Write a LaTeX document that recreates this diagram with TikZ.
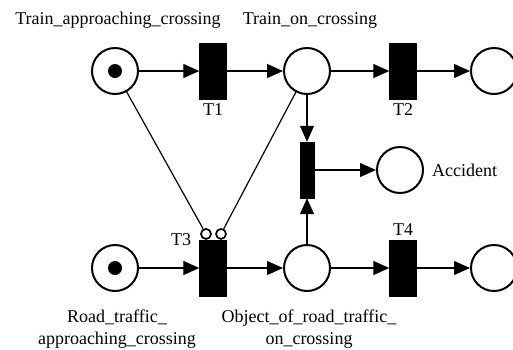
\documentclass[tikz,border=0pt]{standalone}
\usepackage{fontspec}
\setmainfont{Liberation Serif}
\usetikzlibrary{arrows.meta, positioning}

\begin{document}
\begin{tikzpicture}[
        x=1pt, y=-1pt,
        >={Triangle[length=16pt, width=14pt]},
        place/.style={circle, draw=black, line width=2pt, minimum size=46pt, inner sep=0pt},
        token/.style={circle, fill=black, minimum size=14pt, inner sep=0pt},
        transition/.style={rectangle, fill=black, draw=black, minimum width=27pt, minimum height=56pt, inner sep=0pt},
        inhibitor/.style={circle, draw=black, line width=1.7pt, minimum size=10pt, inner sep=0pt},
        arc/.style={->, line width=1.2pt},
        lbl/.style={font=\fontsize{18}{22}\selectfont, inner sep=2pt, align=center}
    ]

        \useasboundingbox (0,0) rectangle (513,349);

        % train line
        \node[place] (p_train_app) at (115,71) {};
        \node[token] (tok_train) at (p_train_app) {};
        \node[transition] (t1) at (213,71) {};
        \node[place] (p_train_on) at (307,71) {};
        \node[transition] (t2) at (403,71) {};
        \node[place] (p_train_gone) at (494,71) {};

        % accident
        \node[transition, minimum width=14pt] (t5) at (307,170) {};
        \node[place] (p_accident) at (400,170) {};

        % road line
        \node[place] (p_road_app) at (115,268) {};
        \node[token] (tok_road) at (p_road_app) {};
        \node[transition] (t3) at (213,268) {};
        \node[place] (p_road_on) at (307,268) {};
        \node[transition] (t4) at (403,268) {};
        \node[place] (p_road_gone) at (494,268) {};

        \node[inhibitor, above=0pt of t3.north, xshift=-7pt] (inh1) {};
        \node[inhibitor, above=0pt of t3.north, xshift=8pt] (inh2) {};

        \draw[arc] (p_train_app) -- (t1);
        \draw[arc] (t1) -- (p_train_on);
        \draw[arc] (p_train_on) -- (t2);
        \draw[arc] (t2) -- (p_train_gone);

        \draw[arc] (p_road_app) -- (t3);
        \draw[arc] (t3) -- (p_road_on);
        \draw[arc] (p_road_on) -- (t4);
        \draw[arc] (t4) -- (p_road_gone);

        \draw[arc] (p_train_on) -- (t5);
        \draw[arc] (p_road_on) -- (t5);
        \draw[arc] (t5) -- (p_accident);

        \draw[line width=1.2pt] (p_train_app) -- (inh1);
        \draw[line width=1.2pt] (p_train_on) -- (inh2);

        % labels
        \node[lbl] (l_train_app) at (118,20) {Train\_approaching\_crossing};
        \node[lbl] (l_train_on) at (310,20) {Train\_on\_crossing};
        \node[lbl, below=2pt of t1] (l_t1) {T1};
        \node[lbl, below=2pt of t2] (l_t2) {T2};
        \node[lbl, left=6pt of t3.north west] (l_t3) {T3};
        \node[lbl, above=2pt of t4] (l_t4) {T4};
        \node[lbl, right=6pt of p_accident] (l_accident) {Accident};
        \node[lbl] (l_road_app) at (117,329) {Road\_traffic\_\\approaching\_crossing};
        \node[lbl] (l_road_on) at (309,329) {Object\_of\_road\_traffic\_\\on\_crossing};

    \end{tikzpicture}
\end{document}
